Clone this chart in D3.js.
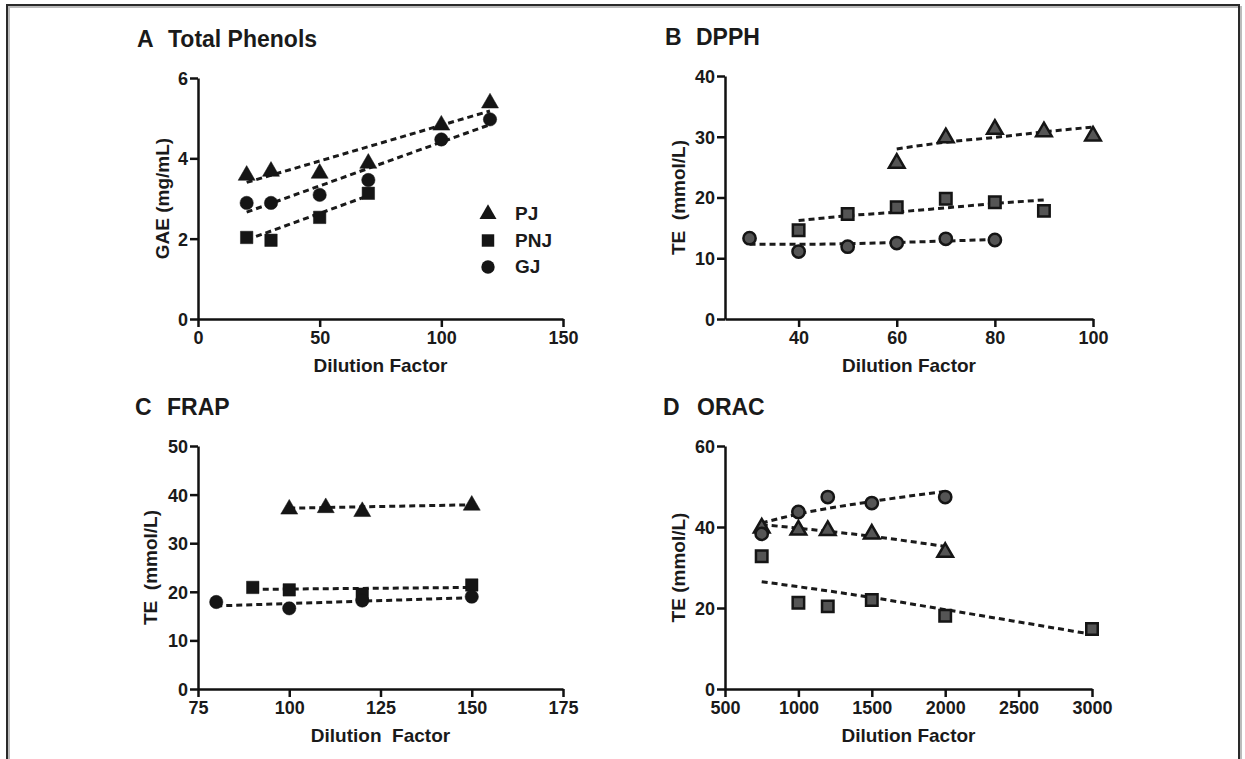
<!DOCTYPE html>
<html>
<head>
<meta charset="utf-8">
<script src="https://cdn.jsdelivr.net/npm/d3@7"></script>
<style>
  body { margin: 0; background: #fff; }
  text { font-family: "Liberation Sans", Arial, sans-serif; font-weight: bold; fill: #1a1a1a; white-space: pre; }
</style>
</head>
<body>
<svg id="chart" width="1245" height="759"></svg>
<script>
// --- data ---
var series = ["PJ", "PNJ", "GJ"];

// A Total Phenols
var aX = { PJ: [20, 30, 50, 70, 100, 120], PNJ: [20, 30, 50, 70], GJ: [20, 30, 50, 70, 100, 120] };
var aPJ = [3.6, 3.7, 3.65, 3.9, 4.85, 5.4];
var aPNJ = [2.03, 1.96, 2.53, 3.13];
var aGJ = [2.89, 2.89, 3.09, 3.46, 4.47, 4.97];
var aPJFit = [[20, 3.4], [120, 5.18]];
var aPNJFit = [[20, 1.97], [70, 3.07]];
var aGJFit = [[20, 2.66], [120, 4.84]];

// B DPPH
var bX = { PJ: [60, 70, 80, 90, 100], PNJ: [40, 50, 60, 70, 80, 90], GJ: [30, 40, 50, 60, 70, 80] };
var bPJ = [25.8, 30.0, 31.4, 31.0, 30.3];
var bPNJ = [14.6, 17.3, 18.4, 19.8, 19.2, 17.8];
var bGJ = [13.3, 11.1, 11.9, 12.5, 13.2, 13.0];
var bPJFit = [[60, 28.0], [70, 29.1], [80, 29.9], [90, 30.8], [100, 31.6]];
var bPNJFit = [[40, 16.2], [50, 17.0], [60, 17.6], [70, 18.3], [80, 19.0], [90, 19.6]];
var bGJFit = [[30, 12.3], [40, 12.3], [60, 12.6], [80, 13.1]];

// C FRAP
var cX = { PJ: [100, 110, 120, 150], PNJ: [90, 100, 120, 150], GJ: [80, 100, 120, 150] };
var cPJ = [37.2, 37.5, 36.7, 38.0];
var cPNJ = [20.9, 20.4, 19.5, 21.4];
var cGJ = [17.9, 16.6, 18.2, 19.0];
var cPJFit = [[100, 37.2], [150, 37.9]];
var cPNJFit = [[90, 20.5], [150, 20.9]];
var cGJFit = [[80, 17.1], [150, 18.8]];

// D ORAC
var dX = { PJ: [750, 1000, 1200, 1500, 2000], PNJ: [750, 1000, 1200, 1500, 2000, 3000], GJ: [750, 1000, 1200, 1500, 2000] };
var dPJ = [40.0, 39.5, 39.4, 38.5, 34.0];
var dPNJ = [32.8, 21.3, 20.4, 22.0, 18.1, 14.8];
var dGJ = [38.3, 43.7, 47.4, 45.9, 47.4];
var dPJFit = [[750, 40.6], [1000, 39.7], [1500, 37.7], [2000, 35.2]];
var dPNJFit = [[750, 26.5], [1500, 22.6], [2000, 19.6], [3000, 13.5]];
var dGJFit = [[750, 41.0], [1000, 43.2], [1500, 46.3], [2000, 48.8]];

var ticksA = { x: [0, 50, 100, 150], y: [0, 2, 4, 6] };
var ticksB = { x: [40, 60, 80, 100], y: [0, 10, 20, 30, 40] };
var ticksC = { x: [75, 100, 125, 150, 175], y: [0, 10, 20, 30, 40, 50] };
var ticksD = { x: [500, 1000, 1500, 2000, 2500, 3000], y: [0, 20, 40, 60] };

var svg = d3.select("#chart");

// page frame
svg.append("path")
  .attr("d", "M9,761 V7 H1241 V761")
  .attr("fill", "none").attr("stroke", "#bbb").attr("stroke-width", 2);
svg.append("path")
  .attr("d", "M7,761 V5 H1239 V761")
  .attr("fill", "none").attr("stroke", "#2a2a2a").attr("stroke-width", 2);

var panels = [
  { letter: "A", title: "Total Phenols", lx: 137, tx: 168, ty: 47,
    box: [198, 563, 78, 319], xd: [0, 150], yd: [0, 6], ticks: ticksA,
    xTitle: "Dilution Factor", yTitle: "GAE (mg/mL)", yOff: 36, style: "solid",
    x: aX, y: { PJ: aPJ, PNJ: aPNJ, GJ: aGJ }, fit: { PJ: aPJFit, PNJ: aPNJFit, GJ: aGJFit } },
  { letter: "B", title: "DPPH", lx: 665, tx: 696, ty: 45,
    box: [725, 1093, 76, 319], xd: [25, 100], yd: [0, 40], ticks: ticksB,
    xTitle: "Dilution Factor", yTitle: "TE  (mmol/L)", yOff: 47, style: "gray",
    x: bX, y: { PJ: bPJ, PNJ: bPNJ, GJ: bGJ }, fit: { PJ: bPJFit, PNJ: bPNJFit, GJ: bGJFit } },
  { letter: "C", title: "FRAP", lx: 135, tx: 167, ty: 415,
    box: [198, 563, 446, 689], xd: [75, 175], yd: [0, 50], ticks: ticksC,
    xTitle: "Dilution  Factor", yTitle: "TE  (mmol/L)", yOff: 48, style: "solid",
    x: cX, y: { PJ: cPJ, PNJ: cPNJ, GJ: cGJ }, fit: { PJ: cPJFit, PNJ: cPNJFit, GJ: cGJFit } },
  { letter: "D", title: "ORAC", lx: 663, tx: 697, ty: 415,
    box: [725, 1092, 446, 689], xd: [500, 3000], yd: [0, 60], ticks: ticksD,
    xTitle: "Dilution Factor", yTitle: "TE (mmol/L)", yOff: 47, style: "gray",
    x: dX, y: { PJ: dPJ, PNJ: dPNJ, GJ: dGJ }, fit: { PJ: dPJFit, PNJ: dPNJFit, GJ: dGJFit } }
];

var shapes = { PJ: d3.symbolTriangle, PNJ: d3.symbolSquare, GJ: d3.symbolCircle };
var sizes = { PJ: 125, PNJ: 155, GJ: 140 };
var fmt = d3.format("d");

panels.forEach(function(p) {
  var g = svg.append("g");
  var x = d3.scaleLinear().domain(p.xd).range([p.box[0], p.box[1]]);
  var y = d3.scaleLinear().domain(p.yd).range([p.box[3], p.box[2]]);

  g.append("text").attr("x", p.lx).attr("y", p.ty).attr("font-size", 23).text(p.letter);
  g.append("text").attr("x", p.tx).attr("y", p.ty).attr("font-size", 23).text(p.title);

  var xa = g.append("g").attr("transform", "translate(0," + p.box[3] + ")")
    .call(d3.axisBottom(x).tickValues(p.ticks.x).tickFormat(fmt)
      .tickSize(8).tickPadding(4).tickSizeOuter(0));
  var ya = g.append("g").attr("transform", "translate(" + p.box[0] + ",0)")
    .call(d3.axisLeft(y).tickValues(p.ticks.y).tickFormat(fmt)
      .tickSize(8).tickPadding(2).tickSizeOuter(0));
  [xa, ya].forEach(function(a) {
    a.attr("font-size", 18).attr("font-family", "Liberation Sans, Arial, sans-serif");
    a.select(".domain").attr("stroke", "#111").attr("stroke-width", 2.5);
    a.selectAll(".tick line").attr("stroke", "#111").attr("stroke-width", 2.5);
    a.selectAll(".tick text").attr("fill", "#1a1a1a").attr("font-weight", "bold");
  });
  ya.selectAll(".tick text").attr("dy", "0.36em");

  g.append("text")
    .attr("x", (p.box[0] + p.box[1]) / 2).attr("y", p.box[3] + 53)
    .attr("text-anchor", "middle").attr("font-size", 19).text(p.xTitle);
  g.append("text")
    .attr("transform", "translate(" + (p.box[0] - p.yOff + 7) + "," + ((p.box[2] + p.box[3]) / 2) + ") rotate(-90)")
    .attr("text-anchor", "middle").attr("font-size", 19).text(p.yTitle);

  var line = d3.line()
    .x(function(d) { return x(d[0]); })
    .y(function(d) { return y(d[1]); })
    .curve(d3.curveMonotoneX);

  series.forEach(function(s) {
    g.append("path")
      .datum(p.fit[s])
      .attr("d", line)
      .attr("fill", "none")
      .attr("stroke", "#1a1a1a")
      .attr("stroke-width", 3)
      .attr("stroke-dasharray", "6,4");
  });

  series.forEach(function(s) {
    var pts = p.x[s].map(function(v, i) { return [v, p.y[s][i]]; });
    g.selectAll(".pt-" + s)
      .data(pts)
      .enter().append("path")
      .attr("class", "pt-" + s)
      .attr("transform", function(d) {
        var dy = s === "PJ" ? 1 : 0;
        return "translate(" + x(d[0]) + "," + (y(d[1]) + dy) + ")";
      })
      .attr("d", d3.symbol().type(shapes[s]).size(p.style === "gray" ? sizes[s] * 0.85 : sizes[s]))
      .attr("fill", p.style === "gray" ? "#555" : "#151515")
      .attr("stroke", "#151515")
      .attr("stroke-width", p.style === "gray" ? 2.5 : 0.5);
  });
});

// legend in panel A
var legend = svg.append("g");
series.forEach(function(s, i) {
  legend.append("path")
    .attr("transform", "translate(488," + (214 + i * 26.5) + ")")
    .attr("d", d3.symbol().type(shapes[s]).size(sizes[s]))
    .attr("fill", "#151515");
  legend.append("text")
    .attr("x", 515).attr("y", 220 + i * 26.5)
    .attr("font-size", 19).text(s);
});
</script>
</body>
</html>
